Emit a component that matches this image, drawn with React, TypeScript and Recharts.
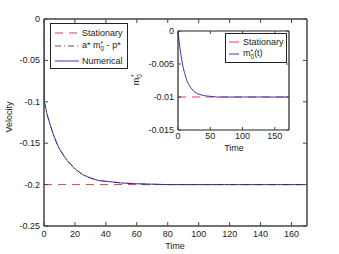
import React from "react";
import { LineChart, Line, XAxis, YAxis } from "recharts";

// main plot: velocity vs time
const velTime = [0, 0.3, 2, 4, 6, 8, 10, 12, 15, 20, 25, 30, 35, 40, 50, 60, 80, 100, 120, 140, 168];
const velNumerical = [0, -0.1, -0.115, -0.128, -0.139, -0.149, -0.157, -0.163, -0.171, -0.181, -0.188, -0.192, -0.195, -0.196, -0.198, -0.199, -0.2, -0.2, -0.2, -0.2, -0.2];
const velApprox = [-0.1, -0.102, -0.116, -0.128, -0.139, -0.149, -0.157, -0.163, -0.171, -0.181, -0.188, -0.192, -0.195, -0.196, -0.198, -0.199, -0.2, -0.2, -0.2, -0.2, -0.2];
const statTime = [0, 168];
const statVel = [-0.2, -0.2];

const mainXTicks = [0, 20, 40, 60, 80, 100, 120, 140, 160];
const mainYTicks = [-0.25, -0.2, -0.15, -0.1, -0.05, 0];

// inset: m0*(t)
const mTime = [0, 2, 4, 6, 8, 10, 13, 16, 20, 25, 30, 40, 50, 60, 100, 172];
const mValues = [0, -0.0018, -0.0033, -0.0045, -0.0055, -0.0063, -0.0073, -0.008, -0.0086, -0.0092, -0.0095, -0.0098, -0.0099, -0.01, -0.01, -0.01];
const mStatTime = [0, 172];
const mStat = [-0.01, -0.01];

const insetXTicks = [0, 50, 100, 150];
const insetYTicks = [-0.015, -0.01, -0.005, 0];

const toRows = (xs: number[], ys: number[]) => xs.map((t, i) => ({ t, v: ys[i] }));

const FONT = "'Liberation Sans', Arial, sans-serif";
const FS = 9;
const AXIS = "#444";
const RED = "#f03c3c";
const BLUE = "#3a3ab8";

const BottomTick = (props: any) => {
  const { x, y, payload, len, dy } = props;
  return (
    <g>
      <line x1={x} x2={x} y1={y} y2={y - len} stroke={AXIS} />
      <text x={x} y={y + dy} textAnchor="middle" fontSize={FS} fontFamily={FONT} fill="#222">
        {payload.value}
      </text>
    </g>
  );
};

const LeftTick = (props: any) => {
  const { x, y, payload, len } = props;
  return (
    <g>
      <line x1={x} x2={x + len} y1={y} y2={y} stroke={AXIS} />
      <text x={x - 4} y={y + 3} textAnchor="end" fontSize={FS} fontFamily={FONT} fill="#222">
        {payload.value}
      </text>
    </g>
  );
};

const TopTick = (props: any) => {
  const { x, y, len } = props;
  return <line x1={x} x2={x} y1={y} y2={y + len} stroke={AXIS} />;
};

const RightTick = (props: any) => {
  const { x, y, len } = props;
  return <line x1={x} x2={x - len} y1={y} y2={y} stroke={AXIS} />;
};

const MStar = () => (
  <span>
    m
    <span style={{ display: "inline-flex", flexDirection: "column", fontSize: 6.5, lineHeight: "5.5px", verticalAlign: "middle" }}>
      <span>*</span>
      <span>0</span>
    </span>
  </span>
);

export default function App() {
  const textStyle = { fontFamily: FONT, fontSize: FS, color: "#222" };
  return (
    <div style={{ position: "absolute", left: 0, top: 0, width: 339, height: 254, background: "#fff" }}>
      <LineChart width={339} height={254} margin={{ top: 18, right: 31, bottom: 0, left: 0 }}>
        <XAxis
          xAxisId="b"
          dataKey="t"
          type="number"
          domain={[0, 170]}
          ticks={mainXTicks}
          height={28}
          tickSize={0}
          tickMargin={0}
          tickLine={false}
          stroke={AXIS}
          strokeWidth={1.5}
          tick={<BottomTick len={4} dy={11} />}
          allowDataOverflow
        />
        <XAxis
          xAxisId="top"
          orientation="top"
          dataKey="t"
          type="number"
          domain={[0, 170]}
          ticks={mainXTicks}
          height={1}
          tickSize={0}
          tickMargin={0}
          tickLine={false}
          stroke={AXIS}
          strokeWidth={1.5}
          tick={<TopTick len={4} />}
        />
        <YAxis
          yAxisId="l"
          type="number"
          domain={[-0.25, 0]}
          ticks={mainYTicks}
          width={44}
          tickSize={0}
          tickMargin={0}
          tickLine={false}
          stroke={AXIS}
          strokeWidth={1.5}
          tick={<LeftTick len={4} />}
          allowDataOverflow
        />
        <YAxis
          yAxisId="r"
          orientation="right"
          type="number"
          domain={[-0.25, 0]}
          ticks={mainYTicks}
          width={1}
          tickSize={0}
          tickMargin={0}
          tickLine={false}
          stroke={AXIS}
          strokeWidth={1.5}
          tick={<RightTick len={4} />}
        />
        {/* carrier series for the box axes */}
        <Line
          xAxisId="top"
          yAxisId="r"
          data={toRows(statTime, statVel)}
          dataKey="v"
          stroke="none"
          dot={false}
          activeDot={false}
          isAnimationActive={false}
        />
        <Line
          xAxisId="b"
          yAxisId="l"
          data={toRows(statTime, statVel)}
          dataKey="v"
          stroke={RED}
          strokeWidth={1}
          strokeDasharray="8 6"
          dot={false}
          isAnimationActive={false}
        />
        <Line
          xAxisId="b"
          yAxisId="l"
          data={toRows(velTime, velNumerical)}
          dataKey="v"
          type="linear"
          stroke={BLUE}
          strokeWidth={1}
          dot={false}
          isAnimationActive={false}
        />
        <Line
          xAxisId="b"
          yAxisId="l"
          data={toRows(velTime, velApprox)}
          dataKey="v"
          type="linear"
          stroke="#222"
          strokeWidth={1}
          strokeDasharray="6 3 1 3"
          strokeOpacity={0.6}
          dot={false}
          isAnimationActive={false}
        />
      </LineChart>

      {/* inset */}
      <div style={{ position: "absolute", left: 140, top: 0 }}>
        <LineChart width={150} height={160} margin={{ top: 30, right: 0, bottom: 0, left: 0 }}>
          <XAxis
            xAxisId="b"
            dataKey="t"
            type="number"
            domain={[0, 172]}
            ticks={insetXTicks}
            height={30}
            tickSize={0}
            tickMargin={0}
            tickLine={false}
            stroke="#222"
            strokeWidth={1.2}
            tick={<BottomTick len={3} dy={9} />}
          />
          <XAxis
            xAxisId="top"
            orientation="top"
            dataKey="t"
            type="number"
            domain={[0, 172]}
            ticks={insetXTicks}
            height={1}
            tickSize={0}
            tickMargin={0}
            tickLine={false}
            stroke="#222"
            strokeWidth={1.2}
            tick={<TopTick len={3} />}
          />
          <YAxis
            yAxisId="l"
            type="number"
            domain={[-0.015, 0]}
            ticks={insetYTicks}
            width={38}
            tickSize={0}
            tickMargin={0}
            tickLine={false}
            stroke="#222"
            strokeWidth={1.2}
            tick={<LeftTick len={3} />}
          />
          <YAxis
            yAxisId="r"
            orientation="right"
            type="number"
            domain={[-0.015, 0]}
            ticks={insetYTicks}
            width={1}
            tickSize={0}
            tickMargin={0}
            tickLine={false}
            stroke="#222"
            strokeWidth={1.2}
            tick={<RightTick len={3} />}
          />
          <Line
            xAxisId="top"
            yAxisId="r"
            data={toRows(mStatTime, mStat)}
            dataKey="v"
            stroke="none"
            dot={false}
            activeDot={false}
            isAnimationActive={false}
          />
          <Line
            xAxisId="b"
            yAxisId="l"
            data={toRows(mStatTime, mStat)}
            dataKey="v"
            stroke={RED}
            strokeWidth={1}
            strokeDasharray="8 6"
            dot={false}
            isAnimationActive={false}
          />
          <Line
            xAxisId="b"
            yAxisId="l"
            data={toRows(mTime, mValues)}
            dataKey="v"
            type="linear"
            stroke={BLUE}
            strokeWidth={1}
            dot={false}
            isAnimationActive={false}
          />
        </LineChart>
      </div>

      {/* axis titles */}
      <div style={{ ...textStyle, position: "absolute", left: 160, top: 241, width: 30, textAlign: "center" }}>Time</div>
      <div style={{ ...textStyle, position: "absolute", left: 219, top: 143, width: 30, textAlign: "center" }}>Time</div>
      <div
        style={{
          ...textStyle,
          position: "absolute",
          left: -16,
          top: 112,
          width: 50,
          textAlign: "center",
          transform: "rotate(-90deg)",
        }}
      >
        Velocity
      </div>
      <div
        style={{
          ...textStyle,
          position: "absolute",
          left: 127,
          top: 74,
          width: 20,
          textAlign: "center",
          transform: "rotate(-90deg)",
        }}
      >
        <MStar />
      </div>

      {/* main legend */}
      <div
        style={{
          ...textStyle,
          position: "absolute",
          left: 50,
          top: 23,
          width: 76,
          height: 44,
          border: "1px solid #222",
          background: "#fff",
        }}
      >
        {[
          { dash: "8 6", color: RED, label: <span>Stationary</span>, top: 3 },
          { dash: "6 3 1 3", color: "#555", label: <span>a* <MStar /> - p*</span>, top: 16 },
          { dash: "none", color: BLUE, label: <span>Numerical</span>, top: 31 },
        ].map((e, i) => (
          <div key={i} style={{ position: "absolute", left: 3, top: e.top, display: "flex", alignItems: "center", height: 12 }}>
            <svg width={26} height={12}>
              <line x1={1} x2={25} y1={6} y2={6} stroke={e.color} strokeDasharray={e.dash} />
            </svg>
            <span style={{ marginLeft: 2, whiteSpace: "nowrap" }}>{e.label}</span>
          </div>
        ))}
      </div>

      {/* inset legend */}
      <div
        style={{
          ...textStyle,
          position: "absolute",
          left: 225,
          top: 33,
          width: 60,
          height: 28,
          border: "1px solid #222",
          background: "#fff",
        }}
      >
        {[
          { color: RED, label: <span>Stationary</span>, top: 2 },
          { color: BLUE, label: <span><MStar />(t)</span>, top: 14 },
        ].map((e, i) => (
          <div key={i} style={{ position: "absolute", left: 2, top: e.top, display: "flex", alignItems: "center", height: 12 }}>
            <svg width={12} height={12}>
              <line x1={1} x2={11} y1={6} y2={6} stroke={e.color} />
            </svg>
            <span style={{ marginLeft: 3, whiteSpace: "nowrap" }}>{e.label}</span>
          </div>
        ))}
      </div>
    </div>
  );
}
